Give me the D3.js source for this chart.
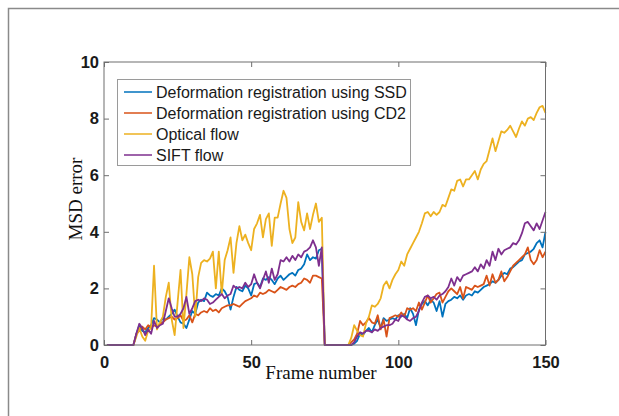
<!DOCTYPE html>
<html>
<head>
<meta charset="utf-8">
<script src="https://cdn.jsdelivr.net/npm/d3@7"></script>
<style>
  html, body { margin: 0; padding: 0; background: #fff; }
  svg { display: block; }
  .tick-label { font-family: "Liberation Sans", Arial, sans-serif; font-size: 16.5px; font-weight: bold; fill: #1a1a1a; }
  .axis-title { font-family: "Liberation Serif", "Times New Roman", serif; font-size: 19px; fill: #111; }
  .legend-text { font-family: "Liberation Sans", Arial, sans-serif; font-size: 16px; fill: #1a1a1a; }
</style>
</head>
<body>
<div id="chart"></div>
<script>
// MSD error per frame, four registration methods

const frames = d3.range(1, 151);

const seriesNames = [
  'Deformation registration using SSD',
  'Deformation registration using CD2',
  'Optical flow',
  'SIFT flow'
];
const seriesColors = ['#0072BD', '#D95319', '#EDB120', '#7E2F8E'];

const ssd = [
  0,0,0,0,0,0,0,0,0,0,
  0.4,0.7,0.5,0.45,0.6,0.7,0.95,0.9,0.8,0.95,
  0.9,1.0,1.1,1.25,1.0,0.8,0.75,0.6,0.9,1.2,
  1.1,1.5,1.6,1.55,1.85,1.75,1.7,1.8,1.75,2.0,
  1.9,1.7,1.25,1.7,2.05,1.95,1.9,2.1,2.0,1.75,
  2.15,2.2,2.05,2.35,2.3,2.4,2.3,2.15,2.35,2.45,
  2.3,2.4,2.5,2.55,2.45,2.65,2.7,2.85,3.2,3.0,
  3.1,3.05,3.35,3.4,
  0,0,0,0,0,0,0,0,0,
  0,0.05,0.15,0.4,0.35,0.5,0.6,
  0.45,0.7,0.9,0.6,0.95,0.85,0.9,0.95,0.9,1.05,
  1.0,1.1,0.95,1.3,1.1,0.7,1.25,1.45,1.55,1.4,
  1.6,1.5,1.2,1.55,1.0,1.45,1.55,1.6,1.7,1.65,
  1.75,1.6,1.75,1.8,1.75,1.9,1.85,1.95,2.05,2.1,
  2.15,2.25,2.2,2.3,2.45,2.55,2.5,2.7,2.75,2.85,
  2.95,3.0,3.2,3.25,3.3,3.4,3.6,3.7,3.45,4.0
];

const cd2 = [
  0,0,0,0,0,0,0,0,0,0,
  0.4,0.5,0.65,0.55,0.7,0.6,0.7,0.65,0.75,0.8,
  0.9,0.95,1.0,0.9,0.95,1.05,0.85,0.9,1.05,0.8,
  1.1,1.05,1.15,1.2,1.15,1.3,1.2,1.25,1.15,1.3,
  1.35,1.4,1.4,1.45,1.4,1.35,1.45,1.55,1.6,1.65,
  1.75,1.7,1.85,1.8,1.85,1.95,1.9,1.85,1.95,2.05,
  2.0,1.95,2.05,2.1,2.05,2.15,2.2,2.35,2.3,2.2,
  2.45,2.45,2.4,2.35,
  0,0,0,0,0,0,0,0,0,
  0.1,0.2,0.4,0.85,0.7,0.8,0.95,
  0.8,0.75,1.05,0.55,0.9,0.3,0.95,1.0,1.05,1.0,
  1.15,1.0,1.3,1.25,1.3,1.2,1.5,1.25,1.5,1.75,
  1.5,1.65,1.8,1.85,1.5,1.7,1.9,2.0,1.9,1.8,
  2.05,1.65,2.05,2.0,1.95,2.1,2.05,2.1,2.15,2.45,
  2.1,2.5,2.2,2.3,2.6,2.25,2.4,2.6,2.8,2.9,
  3.0,3.1,3.2,3.45,3.0,2.85,3.0,3.35,3.1,3.3
];

const opticalFlow = [
  0,0,0,0,0,0,0,0,0,0,
  0.3,0.6,0.3,0.15,0.5,0.6,2.8,0.55,0.8,1.0,
  1.7,2.2,0.9,0.35,1.5,2.65,0.6,1.8,3.1,2.5,
  1.0,2.4,2.9,3.0,2.95,3.05,3.3,2.0,3.3,1.8,
  3.0,3.35,3.8,2.55,3.6,4.2,3.7,3.9,3.6,3.35,
  4.1,4.3,4.6,3.8,4.45,4.65,3.5,4.5,4.5,5.0,
  5.45,5.2,4.1,3.6,3.8,5.05,4.35,4.05,4.65,4.1,
  4.6,5.0,4.35,4.5,
  0,0,0,0,0,0,0,0,0,
  0.25,0.7,0.5,0.35,0.3,0.75,1.0,
  1.4,1.35,1.45,1.65,2.1,2.25,2.0,2.3,2.5,2.65,
  2.95,2.8,3.2,3.4,3.6,3.8,4.0,4.3,4.65,4.7,
  4.55,4.7,4.6,4.7,4.95,4.9,5.2,5.5,5.45,5.8,
  5.85,5.6,5.85,5.85,6.0,6.15,5.85,6.2,6.4,6.5,
  6.9,7.3,6.85,7.2,7.55,7.5,7.6,7.75,7.55,7.35,
  7.65,7.9,7.75,8.0,8.05,7.95,8.2,8.4,8.45,8.2
];

const siftFlow = [
  0,0,0,0,0,0,0,0,0,0,
  0.4,0.75,0.6,0.35,0.55,0.4,0.85,0.6,0.7,0.75,
  1.2,1.65,1.3,1.0,1.0,1.1,1.3,1.7,1.1,1.3,
  1.55,1.6,1.55,1.65,1.6,1.45,1.5,1.6,1.7,1.8,
  1.65,1.75,1.8,2.1,2.0,2.05,2.0,2.2,2.05,2.15,
  2.5,2.2,2.0,2.3,2.6,2.2,2.7,2.3,2.5,3.0,
  2.95,3.1,2.95,3.15,3.0,3.2,3.1,3.3,3.35,3.45,
  3.7,3.45,2.8,3.45,
  0,0,0,0,0,0,0,0,0,
  0,0.1,0.3,0.45,0.4,0.5,0.5,
  0.45,0.55,0.5,0.6,0.65,0.7,0.7,0.75,0.9,0.85,
  1.05,1.0,0.9,0.85,0.95,1.0,1.2,1.5,1.7,1.75,
  1.65,1.7,1.6,1.75,1.8,1.9,2.05,2.35,2.1,2.4,
  2.25,2.45,2.5,2.55,2.6,2.75,2.6,2.85,2.7,3.0,
  2.8,3.3,3.0,3.4,3.2,3.35,3.4,3.45,3.6,3.55,
  3.7,3.95,4.3,4.35,4.2,4.05,4.3,4.1,4.4,4.7
];

const xTicks = [0, 50, 100, 150];
const yTicks = [0, 2, 4, 6, 8, 10];

// Layout
const W = 619, H = 416;
const plot = { left: 104, right: 545.5, top: 62, bottom: 345 };

const svg = d3.select('#chart')
  .append('svg')
  .attr('width', W)
  .attr('height', H);

// outer frame of the figure (cut off on the right and bottom)
svg.append('rect')
  .attr('x', 8.5).attr('y', 8.5)
  .attr('width', 700).attr('height', 500)
  .attr('fill', 'none')
  .attr('stroke', '#8a8a8a')
  .attr('stroke-width', 1.5);

const xScale = d3.scaleLinear().domain([0, 150]).range([plot.left, plot.right]);
const yScale = d3.scaleLinear().domain([0, 10]).range([plot.bottom, plot.top]);

// Lines
const line = d3.line()
  .x((d, i) => xScale(frames[i]))
  .y(d => yScale(d));

const allSeries = [ssd, cd2, opticalFlow, siftFlow];

svg.append('g')
  .selectAll('path')
  .data(allSeries)
  .enter()
  .append('path')
  .attr('d', d => line(d))
  .attr('fill', 'none')
  .attr('stroke', (d, i) => seriesColors[i])
  .attr('stroke-width', 1.8)
  .attr('stroke-linejoin', 'round');

// Axes (ticks pointing inward, box around)
const tickLen = 5;

const xAxis = svg.append('g')
  .attr('transform', `translate(0, ${plot.bottom})`)
  .call(d3.axisBottom(xScale).tickValues(xTicks).tickSize(-tickLen).tickPadding(11));
const yAxis = svg.append('g')
  .attr('transform', `translate(${plot.left}, 0)`)
  .call(d3.axisLeft(yScale).tickValues(yTicks).tickSize(-tickLen).tickPadding(5));
svg.append('g')
  .attr('transform', `translate(0, ${plot.top})`)
  .call(d3.axisTop(xScale).tickValues(xTicks).tickSize(-tickLen).tickFormat(''));
svg.append('g')
  .attr('transform', `translate(${plot.right}, 0)`)
  .call(d3.axisRight(yScale).tickValues(yTicks).tickSize(-tickLen).tickFormat(''));

svg.selectAll('.domain').remove();
svg.selectAll('.tick line').attr('stroke', '#6e6e6e');
xAxis.selectAll('.tick text').attr('class', 'tick-label').attr('dy', '0.71em');
yAxis.selectAll('.tick text').attr('class', 'tick-label');

svg.append('rect')
  .attr('x', plot.left).attr('y', plot.top)
  .attr('width', plot.right - plot.left)
  .attr('height', plot.bottom - plot.top)
  .attr('fill', 'none')
  .attr('stroke', '#6e6e6e')
  .attr('stroke-width', 1);

// Axis titles
svg.append('text')
  .attr('class', 'axis-title')
  .attr('x', 321)
  .attr('y', 379)
  .attr('text-anchor', 'middle')
  .text('Frame number');

svg.append('text')
  .attr('class', 'axis-title')
  .attr('transform', 'translate(82, 199) rotate(-90)')
  .attr('text-anchor', 'middle')
  .text('MSD error');

// Legend
const legend = svg.append('g');
legend.append('rect')
  .attr('x', 117.5).attr('y', 79.5)
  .attr('width', 293).attr('height', 86)
  .attr('fill', '#fff')
  .attr('stroke', '#9a9a9a')
  .attr('stroke-width', 1);

const items = legend.selectAll('.legend-item')
  .data(seriesNames)
  .enter()
  .append('g')
  .attr('class', 'legend-item')
  .attr('transform', (d, i) => `translate(0, ${92 + i * 21})`);

items.append('line')
  .attr('x1', 124).attr('x2', 152)
  .attr('y1', 0).attr('y2', 0)
  .attr('stroke', (d, i) => seriesColors[i])
  .attr('stroke-width', 1.5);

items.append('text')
  .attr('class', 'legend-text')
  .attr('x', 156)
  .attr('y', 5.5)
  .text(d => d);
</script>
</body>
</html>
